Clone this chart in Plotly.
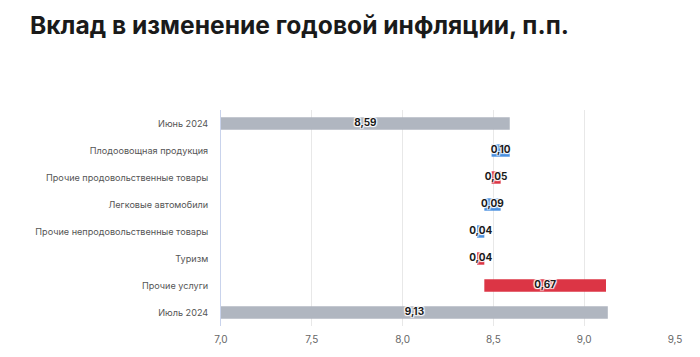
import plotly.graph_objects as go

categories = [
    "Июнь 2024",
    "Плодоовощная продукция",
    "Прочие продовольственные товары",
    "Легковые автомобили",
    "Прочие непродовольственные товары",
    "Туризм",
    "Прочие услуги",
    "Июль 2024",
]
values = [8.59, -0.10, 0.05, -0.09, -0.04, 0.04, 0.67, 9.13]
measures = ["absolute", "relative", "relative", "relative", "relative", "relative", "relative", "absolute"]
x_ticks = [7.0, 7.5, 8.0, 8.5, 9.0, 9.5]
x_tick_labels = ["7,0", "7,5", "8,0", "8,5", "9,0", "9,5"]
x_min, x_max = 7.0, 9.5

labels = [f"{abs(v):.2f}".replace(".", ",") for v in values]

# label positions: centre of the visible part of each bar
label_x = []
level = 0.0
for v, m in zip(values, measures):
    if m == "absolute":
        level = v
        label_x.append((x_min + v) / 2)
    else:
        label_x.append(level + v / 2)
        level += v

GREY = "#b0b6c0"
BLUE = "#4a90e0"
RED = "#dc3545"

W, H = 692, 349  # page body has an 8px margin

fig = go.Figure()
fig.add_trace(
    go.Waterfall(
        orientation="h",
        y=categories,
        x=values,
        measure=measures,
        textinfo="none",
        decreasing=dict(marker=dict(color=BLUE, line=dict(width=0))),
        increasing=dict(marker=dict(color=RED, line=dict(width=0))),
        totals=dict(marker=dict(color=GREY, line=dict(width=0))),
        connector=dict(visible=False),
        width=0.46,
        hoverinfo="skip",
    )
)
fig.add_trace(
    go.Scatter(
        x=label_x,
        y=categories,
        mode="text",
        text=labels,
        textposition="middle center",
        textfont=dict(family="Inter", size=10, color="#1a1a1a", weight="bold",
                      shadow="1px 1px 1px #fff, -1px -1px 1px #fff, 1px -1px 1px #fff, -1px 1px 1px #fff"),
        hoverinfo="skip",
        cliponaxis=False,
    )
)

fig.update_layout(
    width=W,
    height=H,
    margin=dict(l=213, r=25, t=102, b=31),
    paper_bgcolor="white",
    plot_bgcolor="white",
    showlegend=False,
    font=dict(family="Inter", size=10, color="#555"),
    title=dict(
        text="<b>Вклад в изменение годовой инфляции, п.п.</b>",
        font=dict(family="Inter", size=24.6, color="#1a1a1a"),
        x=22 / W,
        xanchor="left",
        xref="container",
        y=1 - 17 / H,
        yanchor="middle",
        yref="container",
    ),
)
fig.update_xaxes(
    range=[x_min, x_max],
    tickvals=x_ticks,
    ticktext=x_tick_labels,
    showgrid=True,
    gridcolor="#e8e8e8",
    gridwidth=1,
    zeroline=False,
    showline=False,
    tickfont=dict(family="Inter", size=10, color="#666"),
    ticks="",
    ticklabelstandoff=6,
    automargin=False,
)
fig.update_yaxes(
    autorange="reversed",
    showgrid=False,
    showline=True,
    linecolor="#c9d3ec",
    linewidth=1,
    ticks="",
    ticklabelstandoff=10,
    tickfont=dict(family="Inter", size=9.1, color="#555"),
    automargin=False,
)

fig.write_html("out.html")
